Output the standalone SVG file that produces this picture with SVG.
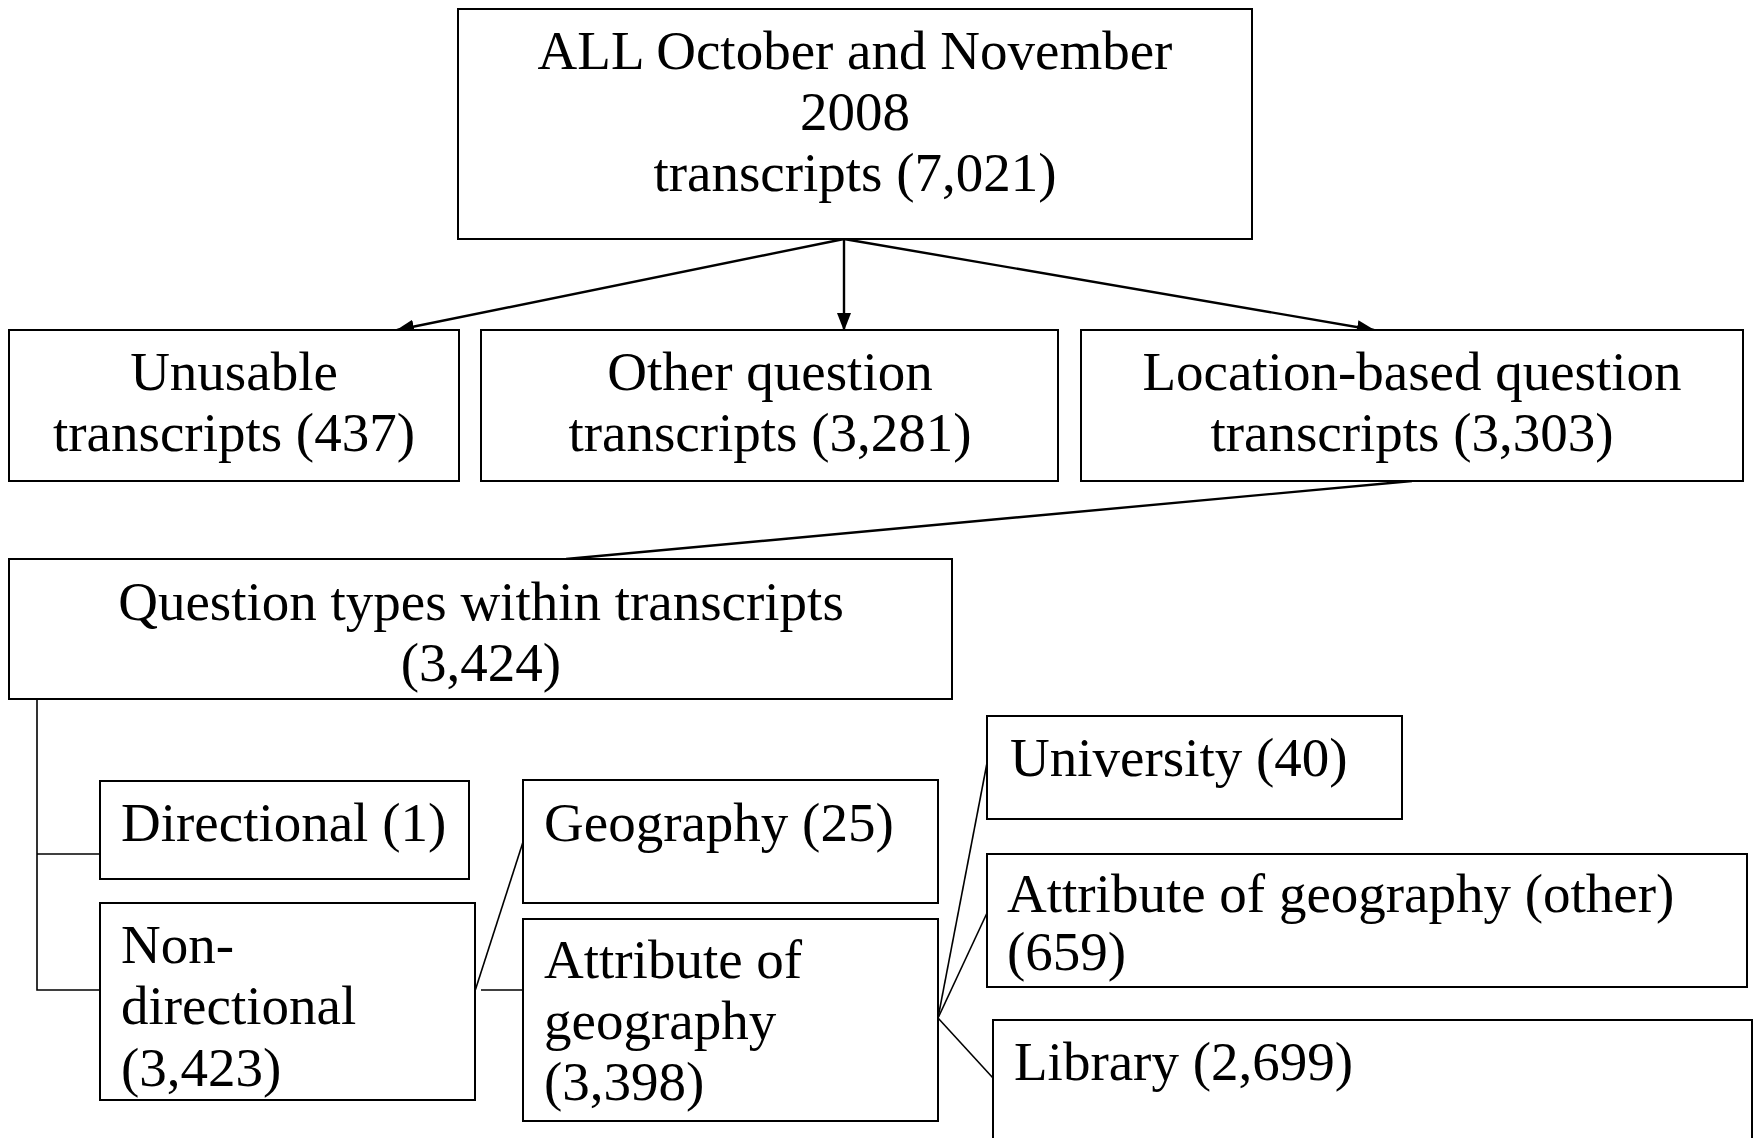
<svg xmlns="http://www.w3.org/2000/svg" width="1754" height="1138" viewBox="0 0 1754 1138">
<style>
.box{fill:#fff;stroke:#000;stroke-width:2}
.t{font-family:"Liberation Serif","Times New Roman",serif;font-size:55px;fill:#000}
.c{text-anchor:middle}
.arr{stroke:#000;stroke-width:2.4;fill:none}
.ln{stroke:#000;stroke-width:1.6;fill:none}
</style>
<defs>
<marker id="ah" markerWidth="18" markerHeight="14" refX="17" refY="7" orient="auto" markerUnits="userSpaceOnUse">
<path d="M0,0 L18,7 L0,14 Z" fill="#000"/>
</marker>
</defs>
<rect width="1754" height="1138" fill="#fff"/>
<g id="connectors">
<line class="arr" x1="844" y1="239" x2="397" y2="330" marker-end="url(#ah)"/>
<line class="arr" x1="844" y1="239" x2="844" y2="330" marker-end="url(#ah)"/>
<line class="arr" x1="844" y1="239" x2="1374" y2="330" marker-end="url(#ah)"/>
<line class="arr" x1="1412" y1="481" x2="566" y2="559"/>
<polyline class="ln" points="37,699 37,990 100,990"/>
<line class="ln" x1="37" y1="854" x2="100" y2="854"/>
<line class="ln" x1="475" y1="991" x2="523" y2="842"/>
<line class="ln" x1="481" y1="990" x2="523" y2="990"/>
<line class="ln" x1="938" y1="1018" x2="987" y2="763"/>
<line class="ln" x1="938" y1="1018" x2="987" y2="913"/>
<line class="ln" x1="938" y1="1018" x2="993" y2="1078"/>
</g>
<g id="all">
<rect class="box" x="458" y="9" width="794" height="230"/>
<text class="t c" x="855" y="69">ALL October and November</text>
<text class="t c" x="855" y="130">2008</text>
<text class="t c" x="855" y="191">transcripts (7,021)</text>
</g>
<g id="unusable">
<rect class="box" x="9" y="330" width="450" height="151"/>
<text class="t c" x="234" y="390">Unusable</text>
<text class="t c" x="234" y="451">transcripts (437)</text>
</g>
<g id="other">
<rect class="box" x="481" y="330" width="577" height="151"/>
<text class="t c" x="770" y="390">Other question</text>
<text class="t c" x="770" y="451">transcripts (3,281)</text>
</g>
<g id="location">
<rect class="box" x="1081" y="330" width="662" height="151"/>
<text class="t c" x="1412" y="390">Location-based question</text>
<text class="t c" x="1412" y="451">transcripts (3,303)</text>
</g>
<g id="question">
<rect class="box" x="9" y="559" width="943" height="140"/>
<text class="t c" x="481" y="620">Question types within transcripts</text>
<text class="t c" x="481" y="681">(3,424)</text>
</g>
<g id="directional">
<rect class="box" x="100" y="781" width="369" height="98"/>
<text class="t" x="121" y="841">Directional (1)</text>
</g>
<g id="nondirectional">
<rect class="box" x="100" y="903" width="375" height="197"/>
<text class="t" x="121" y="963">Non-</text>
<text class="t" x="121" y="1024">directional</text>
<text class="t" x="121" y="1086">(3,423)</text>
</g>
<g id="geography">
<rect class="box" x="523" y="780" width="415" height="123"/>
<text class="t" x="544" y="841">Geography (25)</text>
</g>
<g id="attribute">
<rect class="box" x="523" y="919" width="415" height="202"/>
<text class="t" x="544" y="978">Attribute of</text>
<text class="t" x="544" y="1039">geography</text>
<text class="t" x="544" y="1100">(3,398)</text>
</g>
<g id="university">
<rect class="box" x="987" y="716" width="415" height="103"/>
<text class="t" x="1010" y="776">University (40)</text>
</g>
<g id="attrother">
<rect class="box" x="987" y="854" width="760" height="133"/>
<text class="t" x="1007" y="912">Attribute of geography (other)</text>
<text class="t" x="1007" y="970">(659)</text>
</g>
<g id="library">
<rect class="box" x="993" y="1020" width="759" height="140"/>
<text class="t" x="1014" y="1080">Library (2,699)</text>
</g>
</svg>
